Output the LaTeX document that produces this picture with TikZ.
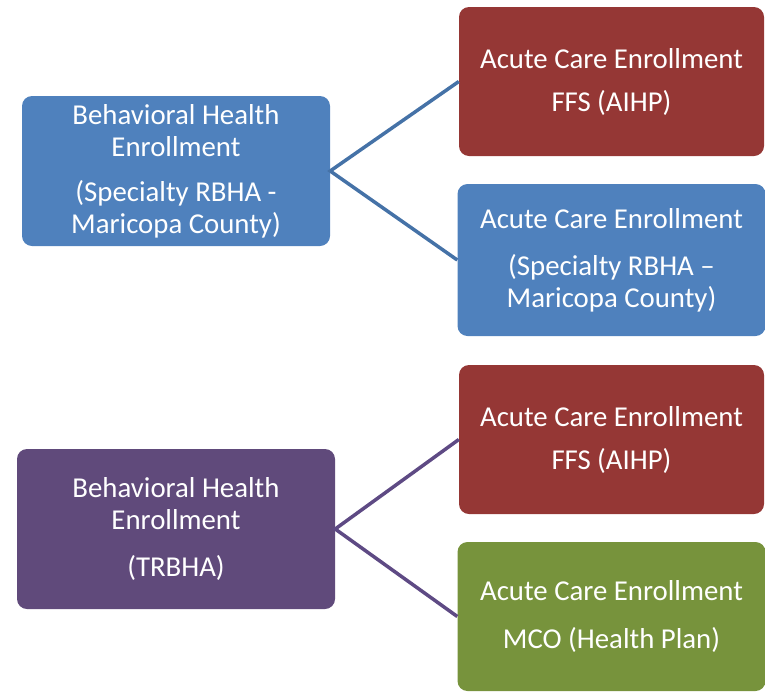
\documentclass[tikz,border=0pt]{standalone}
\usepackage{fontspec}
\setmainfont{Carlito}
\usepackage{tikz}
\definecolor{ablue}{RGB}{79,129,189}
\definecolor{ared}{RGB}{149,55,53}
\definecolor{apurple}{RGB}{96,74,123}
\definecolor{agreen}{RGB}{119,147,60}
\definecolor{bline}{RGB}{69,114,167}
\definecolor{pline}{RGB}{94,74,132}

\begin{document}
\begin{tikzpicture}[x=1pt,y=1pt,
  enrollbox/.style={rounded corners=10pt,inner sep=0pt,text=white,align=center,
    font=\fontsize{28.8}{32}\selectfont},
  link/.style={line width=3.5pt}]
\pgfmathsetmacro{\leftx}{176}
\pgfmathsetmacro{\rightx}{611.5}
\useasboundingbox (0,0) rectangle (765,-691);

% behavioral health boxes
\node[enrollbox,fill=ablue,minimum width=308pt,minimum height=150pt] (bhrbha) at (\leftx,-171)
	{Behavioral Health\\ Enrollment\\[13pt] (Specialty RBHA -\\ Maricopa County)};
\node[enrollbox,fill=apurple,minimum width=318pt,minimum height=160pt] (bhtrbha) at (\leftx,-529)
	{Behavioral Health\\ Enrollment\\[15pt] (TRBHA)};

% acute care boxes
\node[enrollbox,fill=ared,minimum width=305pt,minimum height=149pt] (ffsone) at (\rightx,-81.5)
	{Acute Care Enrollment\\[11pt] FFS (AIHP)};
\node[enrollbox,fill=ablue,minimum width=308pt,minimum height=152pt] (acrbha) at (\rightx,-260)
	{Acute Care Enrollment\\[15pt] (Specialty RBHA –\\ Maricopa County)};
\node[enrollbox,fill=ared,minimum width=305pt,minimum height=149pt] (ffstwo) at (\rightx,-439.5)
	{Acute Care Enrollment\\[11pt] FFS (AIHP)};
\node[enrollbox,fill=agreen,minimum width=308pt,minimum height=149pt] (mco) at (\rightx,-616.5)
	{Acute Care Enrollment\\[16pt] MCO (Health Plan)};

% connectors
\draw[link,bline] (ffsone.west) -- (bhrbha.east) -- (acrbha.west);
\draw[link,pline] (ffstwo.west) -- (bhtrbha.east) -- (mco.west);
\end{tikzpicture}
\end{document}
